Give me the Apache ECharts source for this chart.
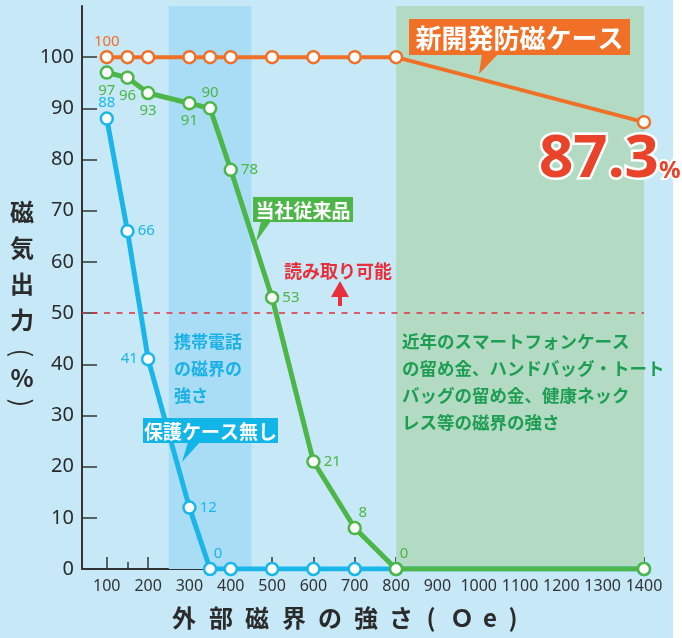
<!DOCTYPE html>
<html>
<head>
<meta charset="utf-8">
<script src="https://cdn.jsdelivr.net/npm/echarts@6/dist/echarts.min.js"></script>
<style>
  html, body { margin: 0; padding: 0; background: #fff; }
  #chart { width: 682px; height: 638px; }
</style>
</head>
<body>
<div id="chart"></div>
<script>
// 外部磁界の強さ (Oe)
var fieldNew = [100, 150, 200, 300, 350, 400, 500, 600, 700, 800, 1400];
var outputNew = [100, 100, 100, 100, 100, 100, 100, 100, 100, 100, 87.3];

var fieldOld = [100, 150, 200, 300, 350, 400, 500, 600, 700, 800, 1400];
var outputOld = [97, 96, 93, 91, 90, 78, 53, 21, 8, 0, 0];

var fieldBare = [100, 150, 200, 300, 350, 400, 500, 600, 700, 800, 1400];
var outputBare = [88, 66, 41, 12, 0, 0, 0, 0, 0, 0, 0];

var xTicks = [100, 200, 300, 400, 500, 600, 700, 800, 900, 1000, 1100, 1200, 1300, 1400];
var yTicks = [0, 10, 20, 30, 40, 50, 60, 70, 80, 90, 100];

var xMin = 40, xMax = 1400;
var phoneBand = [250, 450];
var accessoryBand = [800, 1400];
var readableLine = 50;

var ORANGE = '#f07027', GREEN = '#4cb648', BLUE = '#1ab6ea';
var SANS = '"Noto Sans", sans-serif';
var JP = '"Noto Sans CJK JP", sans-serif';

// which points carry a value label, and where
var labelPosNew = { 0: 'top' };
var labelPosOld = { 0: 'bottom', 1: 'bottom', 2: 'bottom', 3: 'bottom', 4: 'top',
                    5: 'right', 6: 'right', 7: 'right', 8: 'topRight', 9: 'topRight' };
var labelPosBare = { 0: 'top', 1: 'right', 2: 'left', 3: 'right', 4: 'topRight' };

function points(xs, ys, posMap, color) {
  return xs.map(function (x, i) {
    var p = { value: [x, ys[i]] };
    var pos = posMap[i];
    if (pos) {
      var tr = pos === 'topRight';
      p.label = {
        show: true,
        position: tr ? 'top' : pos,
        offset: tr ? [8, 2] : [0, 0],
        distance: pos === 'top' ? 1 : 3,
        color: color,
        fontSize: 15,
        fontFamily: SANS
      };
    }
    return p;
  });
}

function lineSeries(name, xs, ys, posMap, color, width, z) {
  return {
    name: name,
    type: 'line',
    z: z,
    data: points(xs, ys, posMap, color),
    lineStyle: { color: color, width: width },
    symbol: 'circle',
    symbolSize: 12,
    itemStyle: { color: '#fff', borderColor: color, borderWidth: 2.5 },
    label: { show: false },
    emphasis: { disabled: true },
    animation: false
  };
}

var bare = lineSeries('保護ケース無し', fieldBare, outputBare, labelPosBare, BLUE, 5, 2);
bare.markArea = {
  silent: true,
  data: [
    [{ xAxis: phoneBand[0], itemStyle: { color: '#a9ddf6' } }, { xAxis: phoneBand[1] }],
    [{ xAxis: accessoryBand[0], itemStyle: { color: '#b3dbc3' } }, { xAxis: accessoryBand[1] }]
  ]
};

// 読み取り可能 threshold
var threshold = {
  type: 'line',
  z: 1,
  data: [[xMin, readableLine], [accessoryBand[1], readableLine]],
  symbol: 'none',
  lineStyle: { color: '#e0303f', width: 1.5, type: [6, 6.5], dashOffset: 3 },
  emphasis: { disabled: true },
  silent: true,
  animation: false
};

var old = lineSeries('当社従来品', fieldOld, outputOld, labelPosOld, GREEN, 5, 3);
var neu = lineSeries('新開発防磁ケース', fieldNew, outputNew, labelPosNew, ORANGE, 4, 4);

var chart = echarts.init(document.getElementById('chart'), null, { renderer: 'canvas' });

function callout(x, y, w, h, tail, color, text, fontSize) {
  return [
    { type: 'polygon', z: 100, shape: { points: tail }, style: { fill: color } },
    { type: 'rect', z: 100, shape: { x: x, y: y, width: w, height: h }, style: { fill: color } },
    {
      type: 'text', z: 101, x: x + w / 2, y: y + h / 2 + 1,
      style: {
        text: text, fill: '#fff', fontSize: fontSize, fontWeight: 'bold',
        fontFamily: JP, align: 'center', verticalAlign: 'middle'
      }
    }
  ];
}

var yNameChars = ['磁', '気', '出', '力', '(', '%', ')'];
var yNamePos = [212, 248, 284, 320, 353, 378, 403];
var xNameChars = ['外', '部', '磁', '界', 'の', '強', 'さ', '(', 'Ｏ', 'e', ')'];
var xNamePos = [184, 221, 257, 294, 330, 366, 401, 431, 462, 490, 513];

var graphics = [
  { type: 'rect', shape: { x: 673, y: 0, width: 9, height: 638 }, style: { fill: '#ffffff' }, z: 100 }
];
yNameChars.forEach(function (c, i) {
  var paren = c === '(' || c === ')';
  graphics.push({
    type: 'text', x: 22, y: yNamePos[i], z: 100,
    rotation: paren ? -Math.PI / 2 : 0,
    style: { text: c, fill: '#2b2b2b', fontSize: paren ? 26 : 24, fontWeight: paren ? 'normal' : 'bold',
             fontFamily: JP, align: 'center', verticalAlign: 'middle' }
  });
});
xNameChars.forEach(function (c, i) {
  graphics.push({
    type: 'text', x: xNamePos[i], y: 618, z: 100,
    style: { text: c, fill: '#2b2b2b', fontSize: 24, fontWeight: 'bold',
             fontFamily: JP, align: 'center', verticalAlign: 'middle' }
  });
});

graphics = graphics.concat(callout(409, 19, 221, 36, [[482, 54], [498, 54], [479, 74]], ORANGE, '新開発防磁ケース', 26));
graphics = graphics.concat(callout(253, 197, 100, 25, [[261, 221], [271, 221], [256, 242]], GREEN, '当社従来品', 19));
graphics = graphics.concat(callout(143, 418, 135, 25, [[188, 442], [200, 442], [182, 462]], '#12b5e8', '保護ケース無し', 19));

// phone band note
graphics.push({
  type: 'text', x: 174, y: 328, z: 100,
  style: { text: '携帯電話\nの磁界の\n強さ', fill: '#1ab1e6', fontSize: 17, fontWeight: 'bold',
           lineHeight: 27, fontFamily: JP, align: 'left', verticalAlign: 'top' }
});
// accessory band note
graphics.push({
  type: 'text', x: 402, y: 328, z: 100,
  style: { text: '近年のスマートフォンケース\nの留め金、ハンドバッグ・トート\nバッグの留め金、健康ネック\nレス等の磁界の強さ',
           fill: '#1e9e52', fontSize: 17.5, fontWeight: 'bold', lineHeight: 27,
           fontFamily: JP, align: 'left', verticalAlign: 'top' }
});
// readable threshold label + arrow
graphics.push({
  type: 'text', x: 338, y: 271, z: 100,
  style: { text: '読み取り可能', fill: '#e8303c', fontSize: 18, fontWeight: 'bold',
           fontFamily: JP, align: 'center', verticalAlign: 'middle' }
});
graphics.push({
  type: 'polygon', z: 100,
  shape: { points: [[340, 281], [331, 297], [338, 297], [338, 306], [342, 306], [342, 297], [349, 297]] },
  style: { fill: '#e8303c' }
});
// result callout
graphics.push({
  type: 'text', x: 539, y: 160, z: 110,
  style: {
    text: '87.3', fill: '#e9432a', stroke: '#fff', lineWidth: 5,
    fontSize: 60, fontWeight: 'bold', fontFamily: SANS,
    align: 'left', verticalAlign: 'middle'
  }
});
graphics.push({
  type: 'text', x: 659, y: 171, z: 110,
  style: {
    text: '%', fill: '#e9432a', stroke: '#fff', lineWidth: 4,
    fontSize: 24, fontWeight: 'bold', fontFamily: SANS,
    align: 'left', verticalAlign: 'middle'
  }
});

chart.setOption({
  backgroundColor: '#c6e8f7',
  animation: false,
  grid: { left: 82, right: 38, top: 6, bottom: 69 },
  xAxis: [{
    type: 'value',
    min: xMin,
    max: xMax,
    axisLine: { show: true, lineStyle: { color: '#333', width: 2 } },
    axisTick: { show: true, inside: true, length: 12, customValues: xTicks, lineStyle: { color: '#333', width: 1.5 } },
    axisLabel: { customValues: xTicks, color: '#333', fontSize: 16, fontFamily: SANS, margin: 9,
                 hideOverlap: false, showMaxLabel: true,
                 formatter: function (v) { return String(v); } },
    splitLine: { show: false }
  }, {
    type: 'value',
    min: xMin,
    max: xMax,
    position: 'bottom',
    axisLine: { show: false },
    axisTick: { show: true, inside: true, length: 7, customValues: [150], lineStyle: { color: '#333', width: 1.5 } },
    axisLabel: { show: false },
    splitLine: { show: false }
  }],
  yAxis: {
    type: 'value',
    min: 0,
    max: 110,
    axisLine: { show: true, lineStyle: { color: '#333', width: 2 } },
    axisTick: { show: true, inside: true, length: 15, customValues: yTicks, lineStyle: { color: '#333', width: 1.5 } },
    axisLabel: { customValues: yTicks, color: '#2b2b2b', fontSize: 20, fontFamily: SANS, margin: 8 },
    splitLine: { show: false }
  },
  series: [threshold, bare, old, neu],
  graphic: graphics
});
</script>
</body>
</html>
